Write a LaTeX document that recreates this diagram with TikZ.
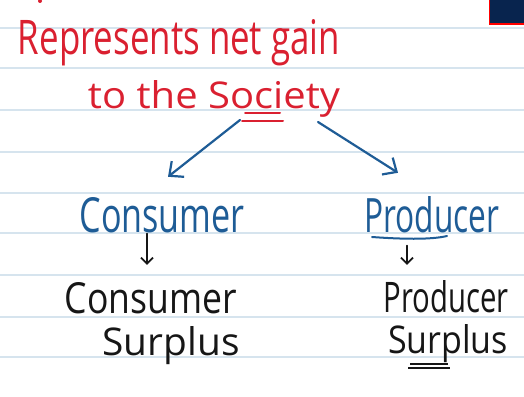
\documentclass[tikz,border=0pt]{standalone}
\usepackage{fontspec}
\setmainfont{Open Sans}
\usepackage{graphicx}
\usepackage{xcolor}
\usetikzlibrary{arrows.meta, calc, positioning}

\definecolor{inkred}{RGB}{218,32,48}
\definecolor{inkblue}{RGB}{30,92,150}
\definecolor{inkblack}{RGB}{22,22,22}
\definecolor{ruleblue}{RGB}{214,228,238}
\definecolor{tabnavy}{RGB}{8,36,78}

\newcommand{\hand}[3]{\resizebox{#1}{#2}{#3}}

\begin{document}
\begin{tikzpicture}[x=1pt, y=-1pt,
                        txt/.style={anchor=base, inner sep=0pt},
                        rule/.style={draw=ruleblue, line width=1.6pt},
                        bluearrow/.style={draw=inkblue, line width=2.2pt, line cap=round, -{Straight Barb[length=11pt, width=20pt, line width=2.2pt]}},
                        blackarrow/.style={draw=inkblack, line width=1.8pt, line cap=round, -{Straight Barb[length=6pt, width=12pt, line width=1.8pt]}}]
                        \useasboundingbox (0, 0) rectangle (524, 396);
                        \fill[white] (0, 0) rectangle (524, 396);
                        \foreach \y in {28, 68, 110, 152, 193, 233, 275, 317, 357}
                            \draw[rule] (0, \y) -- (524, \y);
                        \fill[tabnavy] (489, 0) rectangle (524, 24);
                        \draw[red, line width=1.5pt] (489.7, 0) -- (489.7, 24) -- (524, 24);
                        \fill[inkred] (40, 1) circle (2);
                        \node[txt, text=inkred] (gain) at (179, 55) {\hand{322pt}{35pt}{Represents net gain}};
                        \node[txt, text=inkred] (society) at (214, 108) {\hand{252pt}{28pt}{to the Society}};
                        \node[txt, text=inkblue] (consumer) at (162, 232) {\hand{165pt}{35pt}{Consumer}};
                        \node[txt, text=inkblue] (producer) at (432, 232) {\hand{135pt}{36pt}{Producer}};
                        \node[txt, text=inkblack] (conword) at (151, 313) {\hand{172pt}{31pt}{Consumer}};
                        \node[txt, text=inkblack] (consurplus) at (171, 355) {\hand{137pt}{29pt}{Surplus}};
                        \node[txt, text=inkblack] (proword) at (446, 312) {\hand{125pt}{32pt}{Producer}};
                        \node[txt, text=inkblack] (prosurplus) at (448, 353) {\hand{120pt}{29pt}{Surplus}};
                        \coordinate (gainL) at (240, 120);
                        \coordinate (gainR) at (318, 122);
                        \draw[inkred, line width=2pt, line cap=round]
                        (245, 113) -- (280, 113)
                        (242, 121) -- (283, 121);
                        \draw[inkblue, line width=2pt, line cap=round]
                        (372, 237) .. controls (400, 239) and (430, 240) .. (447, 236);
                        \draw[inkblack, line width=1.5pt]
                        (410, 364) -- (448, 364)
                        (408, 368) -- (450, 368);
                        \draw[bluearrow] (gainL) -- ([xshift=6pt, yshift=20pt]consumer.north);
                        \draw[bluearrow] (gainR) -- ([xshift=-34pt, yshift=23pt]producer.north);
                        \draw[blackarrow] ([xshift=-15pt, yshift=-1pt]consumer.south) -- ([xshift=-4pt, yshift=17pt]conword.north);
                        \draw[blackarrow] ([xshift=-25pt, yshift=-13pt]producer.south) -- ([xshift=-39pt, yshift=15pt]proword.north);
                    \end{tikzpicture}
\end{document}
